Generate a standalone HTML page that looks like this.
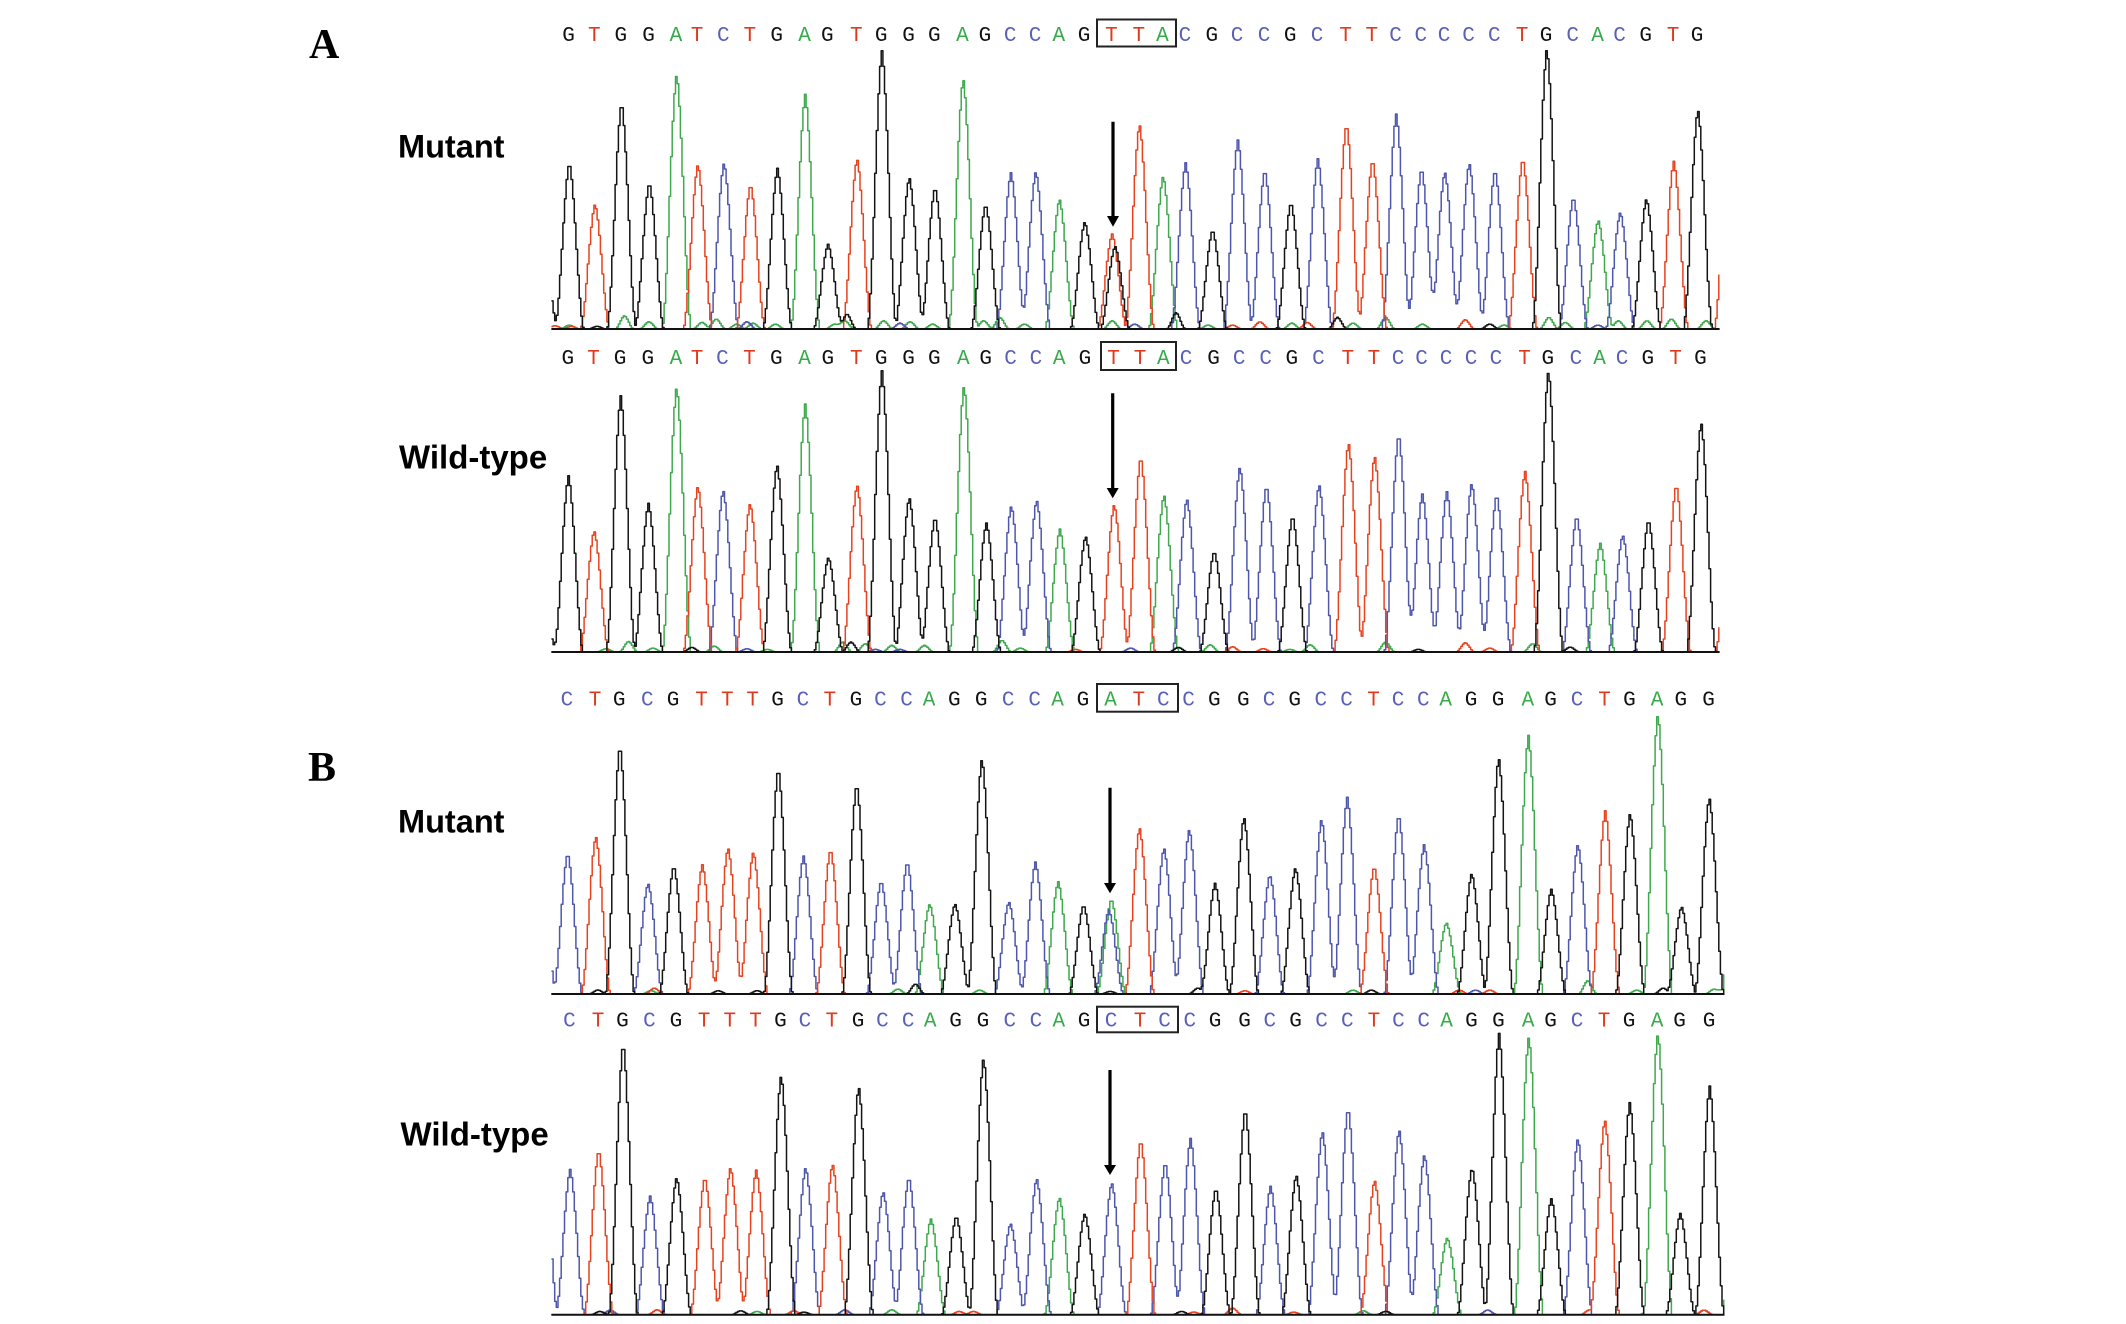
<!DOCTYPE html>
<html lang="en">
<head>
<meta charset="utf-8">
<title>Sequencing chromatograms</title>
<style>
html,body{margin:0;padding:0;background:#fff;width:2126px;height:1324px;overflow:hidden}
svg{display:block}
.panel-letter{font-family:"Liberation Serif",serif;font-weight:bold;font-size:42px;fill:#000}
.row-label{font-family:"Liberation Sans",sans-serif;font-weight:bold;font-size:32.5px;fill:#000}
.row-label-wide{font-size:33px}
.base-call{font-family:"Liberation Mono",monospace;font-size:21px;text-anchor:middle}
.codon-box{fill:none;stroke:#222;stroke-width:2}
.arrow-shaft{stroke:#000;stroke-width:3.2}
</style>
</head>
<body>
<svg id="figure" xmlns="http://www.w3.org/2000/svg" width="2126" height="1324" viewBox="0 0 2126 1324">
  <rect width="2126" height="1324" fill="#fff"/>
  <g id="traces"></g>

  <text class="panel-letter" x="309" y="58">A</text>
  <text class="panel-letter" x="308" y="781">B</text>
  <text class="row-label" x="398" y="157.7">Mutant</text>
  <text class="row-label row-label-wide" x="399" y="468.3">Wild-type</text>
  <text class="row-label" x="398" y="832.3">Mutant</text>
  <text class="row-label row-label-wide" x="400.5" y="1145.7">Wild-type</text>

  <rect class="codon-box" x="1097" y="19.5" width="79" height="27"/>
  <rect class="codon-box" x="1101" y="342" width="75" height="28"/>
  <rect class="codon-box" x="1097" y="684" width="81" height="27.7"/>
  <rect class="codon-box" x="1097" y="1006.7" width="81" height="25.6"/>

  <g>
    <line class="arrow-shaft" x1="1113" y1="121.7" x2="1113" y2="219"/>
    <polygon points="1107,216 1119,216 1113,226.7" fill="#000"/>
  </g>
  <g>
    <line class="arrow-shaft" x1="1112.7" y1="393.3" x2="1112.7" y2="491"/>
    <polygon points="1106.7,488 1118.7,488 1112.7,498.3" fill="#000"/>
  </g>
  <g>
    <line class="arrow-shaft" x1="1110" y1="787.7" x2="1110" y2="886"/>
    <polygon points="1104,883 1116,883 1110,893.3" fill="#000"/>
  </g>
  <g>
    <line class="arrow-shaft" x1="1110" y1="1070" x2="1110" y2="1168"/>
    <polygon points="1104,1165 1116,1165 1110,1175" fill="#000"/>
  </g>
</svg>

<script>
/* Panel A, mutant: called bases, peak scan numbers, peak signal */
const aMutantBases = "GTGGATCTGAGTGGGAGCCAGTTACGCCGCTTCCCCCTGCACGTG";
const aMutantScans = [70,133,198,266,333,385,449,514,580,648,704,775,836,903,966,1035,1090,1152,1213,1271,1333,1400,1467,1525,1580,1646,1708,1774,1838,1904,1974,2038,2096,2158,2215,2275,2338,2406,2465,2530,2591,2645,2709,2776,2835];
const aMutantSignal = [499,375,679,439,765,494,499,434,482,704,254,511,835,455,425,752,374,469,473,390,322,285,615,459,499,297,567,477,379,511,615,507,645,481,472,498,477,511,843,395,327,351,391,503,659];
const aMutantExtraBases = "GGT";
const aMutantExtraScans = [6,1407,2911];
const aMutantExtraSignal = [260,249,570];
const aMutantNoiseBases = "AAAAAAAATTGCCAAAAAAAGAACGGATTATGAAATGAAACAAAA";
const aMutantNoiseScans = [70,205,265,395,430,480,520,575,35,75,138,505,880,720,745,840,905,960,1085,1125,750,1185,1400,1455,1555,1558,1635,1695,1762,1840,1878,1952,1990,2070,2160,2265,2325,2360,2470,2510,2590,2640,2710,2770,2855];
const aMutantNoiseSignal = [12,40,22,20,30,15,18,15,10,8,8,22,18,15,25,25,22,15,25,35,45,15,25,15,25,25,12,12,22,18,20,35,18,35,15,28,15,12,35,20,12,25,25,30,25];

/* Panel A, wild-type */
const aWildBases = "GTGGATCTGAGTGGGAGCCAGTTACGCCGCTTCCCCCTGCACGTG";
const aWildScans = [68,131,196,264,333,385,447,513,579,648,705,775,836,903,966,1037,1092,1153,1215,1272,1335,1405,1470,1527,1583,1650,1713,1778,1842,1907,1979,2043,2102,2160,2220,2281,2342,2412,2469,2538,2596,2651,2714,2782,2843];
const aWildSignal = [529,364,769,446,796,498,486,446,563,744,284,502,844,464,404,801,387,439,456,369,348,443,586,472,460,302,556,499,408,503,628,589,654,474,481,507,472,533,844,408,326,351,396,502,690];
const aWildExtraBases = "GT";
const aWildExtraScans = [6,2914];
const aWildExtraSignal = [120,400];
const aWildNoiseBases = "AAAAAAAAAAACGGCCTCGATTAAAGTTTAG";
const aWildNoiseScans = [160,215,275,425,555,740,795,860,940,1130,1175,505,370,760,820,880,1310,1445,1562,1640,1695,1770,1835,1885,2070,2150,2265,2325,2400,2430,2522];
const aWildNoiseSignal = [10,32,12,18,8,30,25,20,20,35,12,10,14,30,8,8,8,12,14,22,16,10,8,22,30,8,28,12,20,25,15];

/* Panel B, mutant */
const bMutantBases = "CTGCGTTTGCTGCCAGGCCAGATCCGGCGCCTCCAGGAGCTGAGG";
const bMutantScans = [66,135,194,263,326,396,459,521,582,644,710,774,834,898,953,1015,1081,1147,1212,1268,1330,1398,1467,1527,1589,1652,1723,1786,1849,1913,1976,2042,2102,2164,2219,2281,2347,2420,2476,2541,2608,2669,2737,2795,2863];
const bMutantSignal = [422,474,745,332,384,388,439,426,677,414,434,630,339,396,270,271,707,277,396,336,267,285,499,439,495,332,531,352,379,525,590,383,538,444,214,362,710,772,314,449,530,543,840,262,590];
const bMutantExtraBases = "CCA";
const bMutantExtraScans = [2,1392,2931];
const bMutantExtraSignal = [370,252,780];
const bMutantNoiseBases = "ATGGGAGAAGTGTCAGCTCTAATAGATA";
const bMutantNoiseScans = [270,278,140,435,530,875,918,1075,1250,1395,1485,1610,1725,1795,1990,2035,2180,2250,2290,2325,2405,2565,2608,2685,2750,2875,2930,2900];
const bMutantNoiseSignal = [10,18,12,10,10,15,30,12,8,8,8,18,10,10,12,12,18,12,12,12,15,40,20,12,18,15,12,15];

/* Panel B, wild-type */
const bWildBases = "CTGCGTTTGCTGCCAGGCCAGCTCCGGCGCCTCCAGGAGCTGAGG";
const bWildScans = [72,142,202,268,333,402,465,528,589,649,715,779,839,902,956,1018,1085,1151,1215,1271,1333,1399,1470,1530,1592,1654,1726,1788,1851,1915,1978,2043,2103,2165,2221,2282,2348,2421,2476,2541,2607,2668,2737,2792,2864];
const bWildSignal = [436,494,814,356,412,412,442,434,719,442,452,685,369,412,287,296,771,274,409,352,304,396,524,457,529,379,616,374,419,551,620,404,556,481,231,439,844,831,348,529,586,632,844,304,686];
const bWildExtraBases = "CA";
const bWildExtraScans = [6,2931];
const bWildExtraSignal = [516,800];
const bWildNoiseBases = "GCTGATGCATTAGTTCTAGGCATGATC";
const bWildNoiseScans = [145,170,285,490,530,620,645,745,860,1025,1060,1250,1570,1600,1695,1790,1845,2015,2070,2265,2320,2405,2570,2680,2715,2850,2850];
const bWildNoiseSignal = [10,14,15,12,10,12,8,15,15,10,10,12,10,8,20,12,8,12,10,14,14,25,15,10,15,14,14];

const channelOrder = ["A","C","T","G"];
const channelColor = {A:"#3fa94e", C:"#4f57ad", T:"#e8431f", G:"#141414"};
const letterColor = {A:"#35ab4a", C:"#5a5fb8", T:"#e03a1c", G:"#111111"};

const NS = "http://www.w3.org/2000/svg";
const SCALE_X = 1 / 2.45;
const SCALE_Y = 1 / 3;
const ORIGIN_X = 540;
const PEAK_HALF_WIDTH = 35;
const NOISE_HALF_WIDTH = 22;

function xScale(scan) { return ORIGIN_X + scan * SCALE_X; }
function yScale(signal, baseline) { return baseline - signal * SCALE_Y; }

function bump(scan, center, height, halfWidth) {
  const d = Math.abs(scan - center);
  if (d >= halfWidth) return 0;
  const c = Math.cos(Math.PI * d / (2 * halfWidth));
  return height * (0.7 * c * c + 0.3 * (1 - d / halfWidth));
}

function channelSignal(scan, ch, p) {
  let sum = 0;
  for (let i = 0; i < p.bases.length; i++) {
    if (p.bases[i] === ch) sum += bump(scan, p.scans[i], p.signal[i], PEAK_HALF_WIDTH);
  }
  for (let i = 0; i < p.extraBases.length; i++) {
    if (p.extraBases[i] === ch) sum += bump(scan, p.extraScans[i], p.extraSignal[i], PEAK_HALF_WIDTH);
  }
  for (let i = 0; i < p.noiseBases.length; i++) {
    if (p.noiseBases[i] === ch) sum += bump(scan, p.noiseScans[i], p.noiseSignal[i], NOISE_HALF_WIDTH);
  }
  return sum;
}

const panels = [
  {id:"a-mutant", baseline:329, labelY:41, left:28, right:2890, bases:aMutantBases, scans:aMutantScans, signal:aMutantSignal, extraBases:aMutantExtraBases, extraScans:aMutantExtraScans, extraSignal:aMutantExtraSignal, noiseBases:aMutantNoiseBases, noiseScans:aMutantNoiseScans, noiseSignal:aMutantNoiseSignal},
  {id:"a-wild-type", baseline:652, labelY:364, left:28, right:2890, bases:aWildBases, scans:aWildScans, signal:aWildSignal, extraBases:aWildExtraBases, extraScans:aWildExtraScans, extraSignal:aWildExtraSignal, noiseBases:aWildNoiseBases, noiseScans:aWildNoiseScans, noiseSignal:aWildNoiseSignal},
  {id:"b-mutant", baseline:994, labelY:705.5, left:28, right:2902, bases:bMutantBases, scans:bMutantScans, signal:bMutantSignal, extraBases:bMutantExtraBases, extraScans:bMutantExtraScans, extraSignal:bMutantExtraSignal, noiseBases:bMutantNoiseBases, noiseScans:bMutantNoiseScans, noiseSignal:bMutantNoiseSignal},
  {id:"b-wild-type", baseline:1314.7, labelY:1026.5, left:28, right:2902, bases:bWildBases, scans:bWildScans, signal:bWildSignal, extraBases:bWildExtraBases, extraScans:bWildExtraScans, extraSignal:bWildExtraSignal, noiseBases:bWildNoiseBases, noiseScans:bWildNoiseScans, noiseSignal:bWildNoiseSignal}
];

const root = document.getElementById("traces");

for (const p of panels) {
  const group = document.createElementNS(NS, "g");
  
  
  root.appendChild(group);

  for (const ch of channelOrder) {
    let d = "";
    for (let scan = p.left; scan <= p.right; scan += 4) {
      const px = xScale(scan).toFixed(1);
      const py = yScale(channelSignal(scan, ch, p), p.baseline).toFixed(1);
      d += d === "" ? "M" + px + " " + py : "H" + px + "V" + py;
    }
    const path = document.createElementNS(NS, "path");
    
    
    path.setAttribute("d", d);
    path.setAttribute("fill", "none");
    path.setAttribute("stroke", channelColor[ch]);
    path.setAttribute("stroke-width", "1.5");
    path.setAttribute("stroke-linejoin", "round");
    group.appendChild(path);
  }

  const axis = document.createElementNS(NS, "line");
  
  
  axis.setAttribute("x1", xScale(p.left));
  axis.setAttribute("x2", xScale(p.right));
  axis.setAttribute("y1", p.baseline);
  axis.setAttribute("y2", p.baseline);
  axis.setAttribute("stroke", "#111");
  axis.setAttribute("stroke-width", "2");
  group.appendChild(axis);

  for (let i = 0; i < p.bases.length; i++) {
    const t = document.createElementNS(NS, "text");
    
    
    t.setAttribute("class", "base-call");
    t.setAttribute("x", xScale(p.scans[i]).toFixed(1));
    t.setAttribute("y", p.labelY);
    t.setAttribute("fill", letterColor[p.bases[i]]);
    t.textContent = p.bases[i];
    group.appendChild(t);
  }
}
</script>
</body>
</html>
